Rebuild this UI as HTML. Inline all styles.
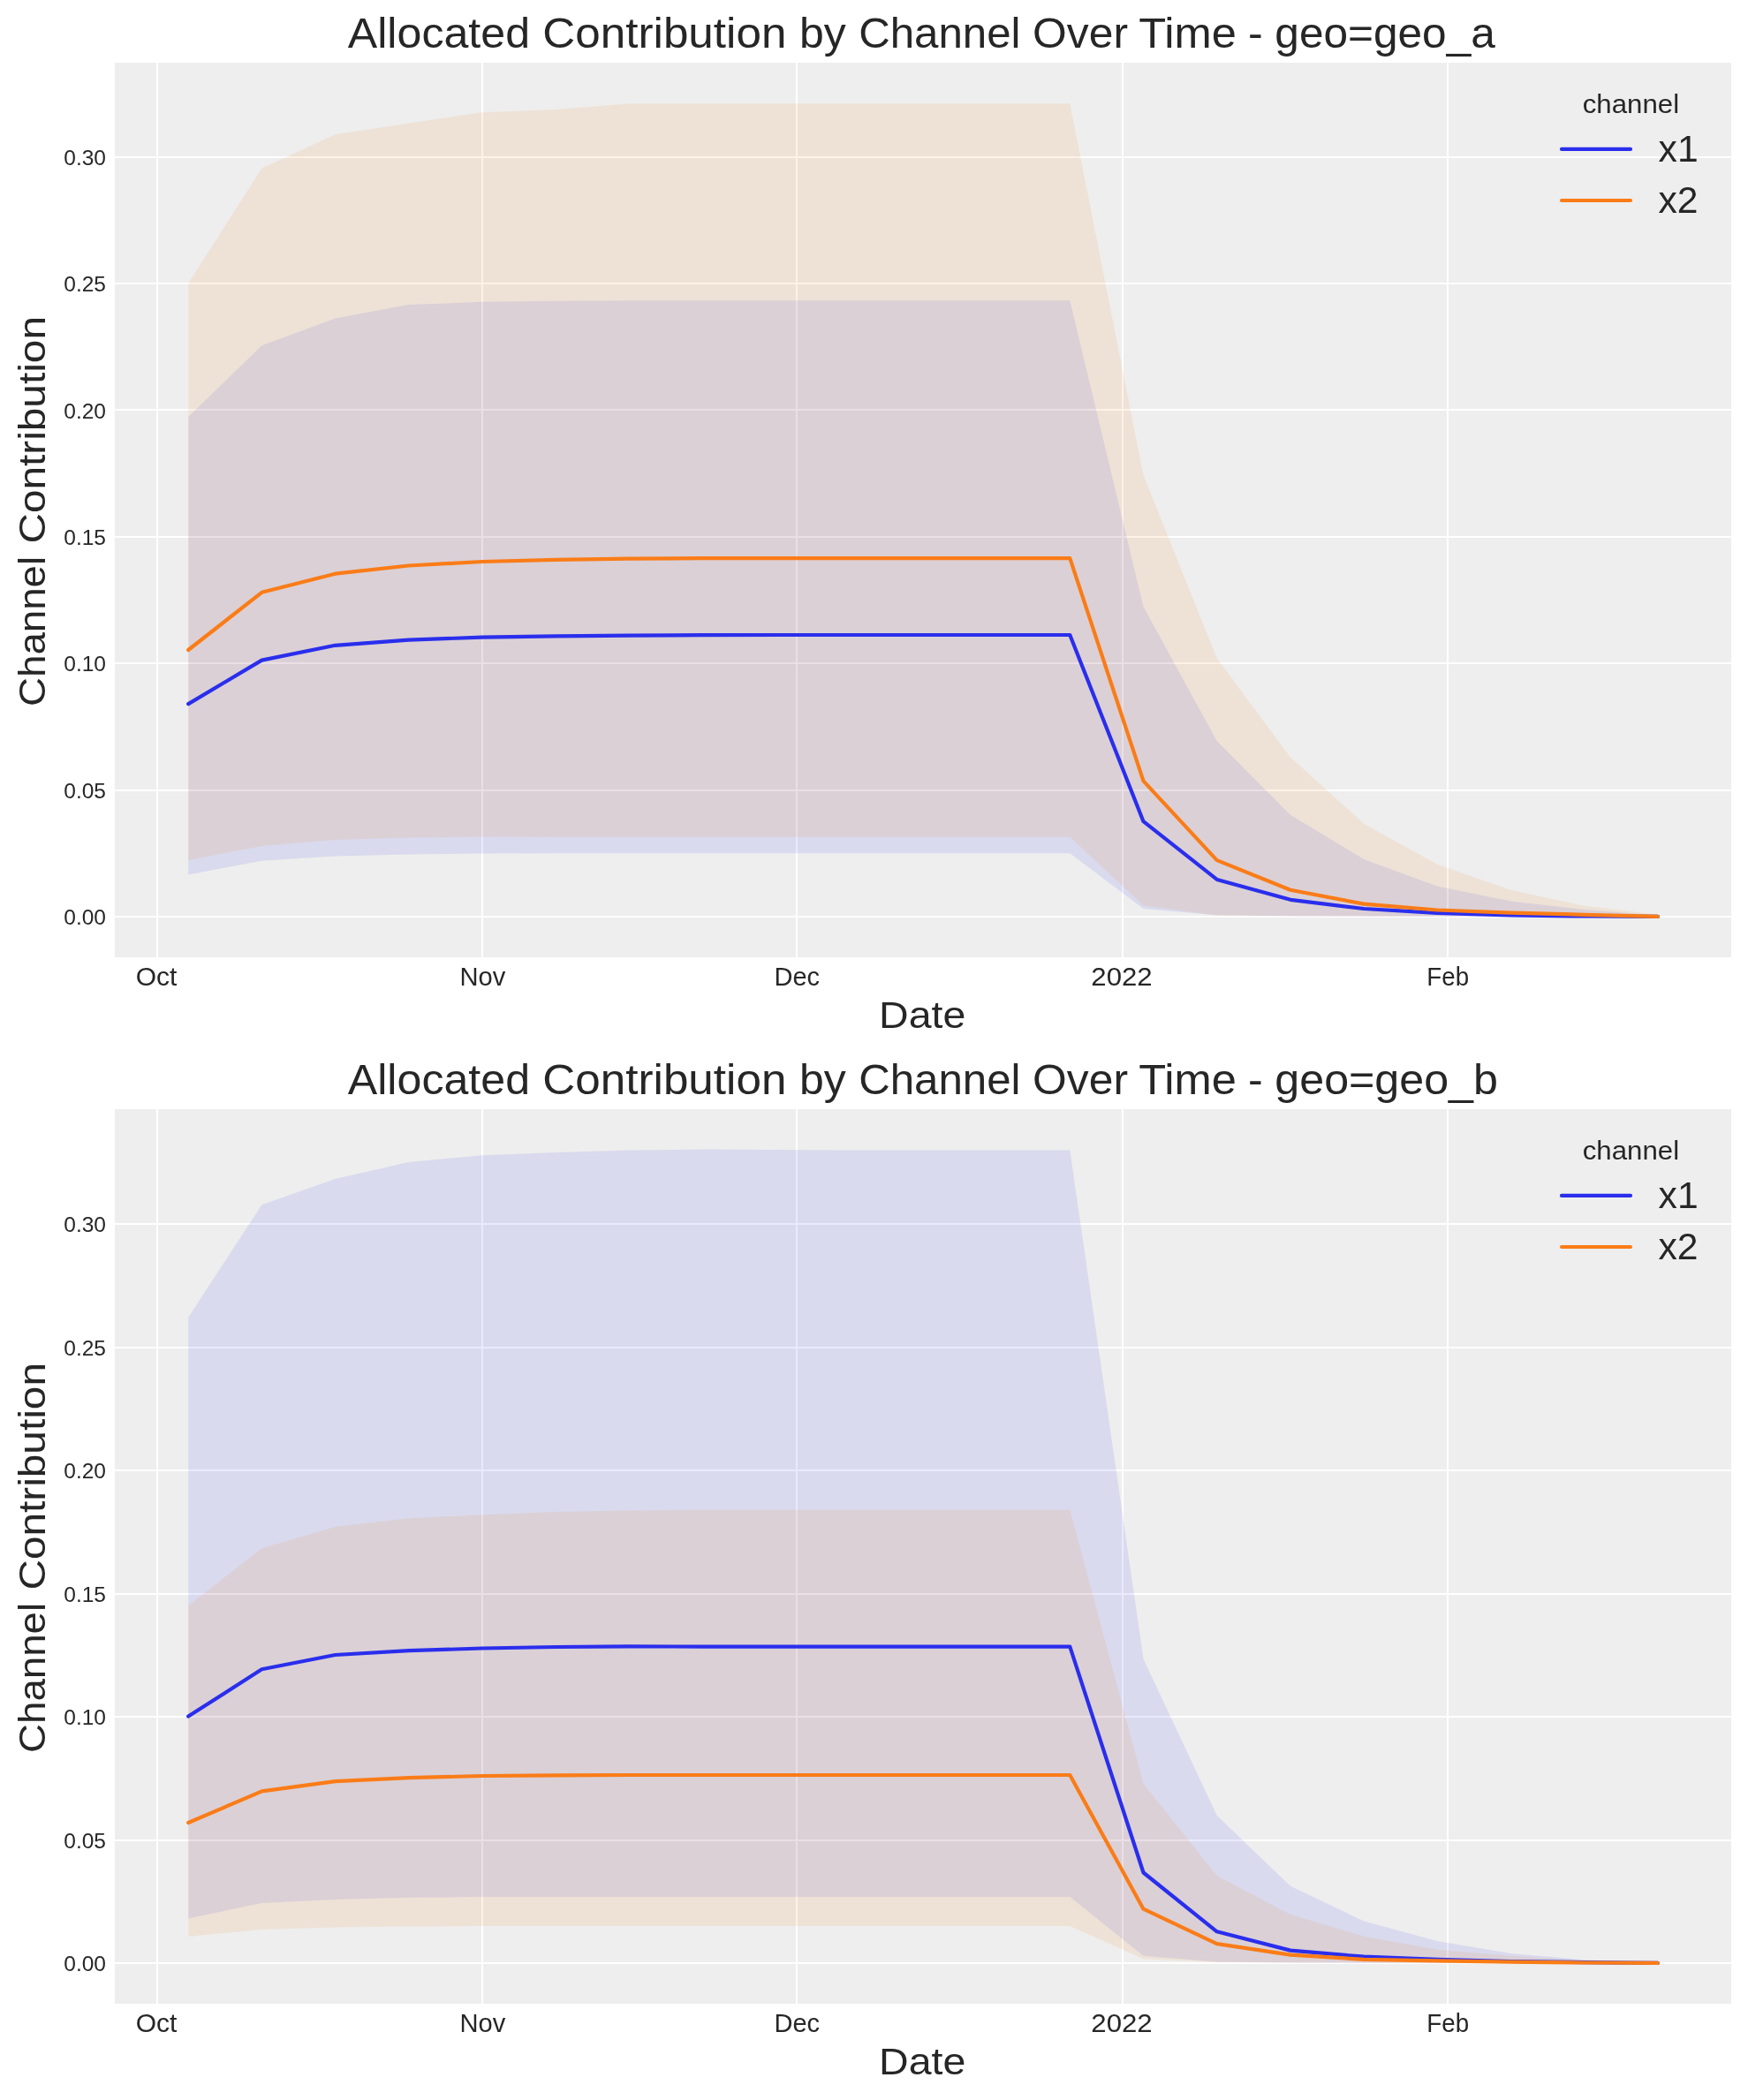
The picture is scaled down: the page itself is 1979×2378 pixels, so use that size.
<!DOCTYPE html>
<html><head><meta charset="utf-8"><style>
html,body{margin:0;padding:0;background:#fff;}
svg{display:block;}
text{font-family:"Liberation Sans", sans-serif;fill:#262626;}
svg{will-change:transform;}
</style></head><body>
<svg width="1979" height="2378" viewBox="0 0 1979 2378">
<rect x="0" y="0" width="1979" height="2378" fill="#ffffff"/>
<rect x="130" y="71" width="1830" height="1013" fill="#eeeeee"/>
<rect x="177" y="71" width="2" height="1013" fill="#ffffff"/>
<rect x="545" y="71" width="2" height="1013" fill="#ffffff"/>
<rect x="901" y="71" width="2" height="1013" fill="#ffffff"/>
<rect x="1270" y="71" width="2" height="1013" fill="#ffffff"/>
<rect x="1638" y="71" width="2" height="1013" fill="#ffffff"/>
<rect x="130" y="1037" width="1830" height="2" fill="#ffffff"/>
<rect x="130" y="894" width="1830" height="2" fill="#ffffff"/>
<rect x="130" y="750" width="1830" height="2" fill="#ffffff"/>
<rect x="130" y="607" width="1830" height="2" fill="#ffffff"/>
<rect x="130" y="463" width="1830" height="2" fill="#ffffff"/>
<rect x="130" y="320" width="1830" height="2" fill="#ffffff"/>
<rect x="130" y="177" width="1830" height="2" fill="#ffffff"/>
<polygon points="213.2,471.9 296.4,391.2 379.5,360.4 462.7,345.1 545.9,341.8 629.1,340.8 712.3,340.3 795.4,340.3 878.6,340.3 961.8,340.3 1045.0,340.3 1128.2,340.3 1211.3,340.3 1294.5,687.0 1377.7,839.1 1460.9,922.7 1544.1,973.0 1627.2,1003.6 1710.4,1020.5 1793.6,1030.1 1876.8,1036.4 1876.8,1037.9 1793.6,1037.9 1710.4,1037.9 1627.2,1037.9 1544.1,1037.8 1460.9,1037.4 1377.7,1036.3 1294.5,1029.0 1211.3,966.3 1128.2,966.3 1045.0,966.3 961.8,966.3 878.6,966.3 795.4,966.3 712.3,966.3 629.1,966.3 545.9,966.5 462.7,967.6 379.5,969.5 296.4,974.7 213.2,990.5" fill="#2a2eec" fill-opacity="0.1"/>
<polygon points="213.2,320.8 296.4,190.4 379.5,152.2 462.7,139.4 545.9,127.2 629.1,124.0 712.3,117.3 795.4,117.3 878.6,117.3 961.8,117.3 1045.0,117.3 1128.2,117.3 1211.3,117.3 1294.5,538.1 1377.7,745.3 1460.9,857.4 1544.1,932.7 1627.2,978.8 1710.4,1007.8 1793.6,1025.8 1876.8,1035.4 1876.8,1037.9 1793.6,1037.9 1710.4,1037.9 1627.2,1037.9 1544.1,1037.8 1460.9,1037.5 1377.7,1036.8 1294.5,1025.2 1211.3,947.7 1128.2,947.7 1045.0,947.7 961.8,947.7 878.6,947.7 795.4,947.7 712.3,947.7 629.1,947.7 545.9,947.6 462.7,948.4 379.5,951.0 296.4,957.9 213.2,973.9" fill="#fa7c17" fill-opacity="0.1"/>
<polyline points="213.2,797.1 296.4,747.6 379.5,730.8 462.7,724.7 545.9,721.6 629.1,720.3 712.3,719.6 795.4,719.2 878.6,719.0 961.8,719.0 1045.0,719.0 1128.2,719.0 1211.3,719.0 1294.5,930.2 1377.7,995.9 1460.9,1018.8 1544.1,1029.0 1627.2,1033.9 1710.4,1036.4 1793.6,1037.5 1876.8,1037.9" fill="none" stroke="#2a2eec" stroke-width="4.2" stroke-linejoin="round" stroke-linecap="round"/>
<polyline points="213.2,736.0 296.4,670.8 379.5,649.7 462.7,640.5 545.9,636.0 629.1,633.8 712.3,632.6 795.4,632.2 878.6,632.2 961.8,632.2 1045.0,632.2 1128.2,632.2 1211.3,632.2 1294.5,884.4 1377.7,974.1 1460.9,1007.8 1544.1,1023.6 1627.2,1030.5 1710.4,1033.7 1793.6,1035.8 1876.8,1037.9" fill="none" stroke="#fa7c17" stroke-width="4.2" stroke-linejoin="round" stroke-linecap="round"/>
<text x="72.26" y="1047.00" font-size="23.3" textLength="47.70" lengthAdjust="spacingAndGlyphs">0.00</text>
<text x="72.26" y="903.67" font-size="23.3" textLength="47.70" lengthAdjust="spacingAndGlyphs">0.05</text>
<text x="72.26" y="760.33" font-size="23.3" textLength="47.70" lengthAdjust="spacingAndGlyphs">0.10</text>
<text x="72.26" y="617.00" font-size="23.3" textLength="47.70" lengthAdjust="spacingAndGlyphs">0.15</text>
<text x="72.26" y="473.67" font-size="23.3" textLength="47.70" lengthAdjust="spacingAndGlyphs">0.20</text>
<text x="72.26" y="330.33" font-size="23.3" textLength="47.70" lengthAdjust="spacingAndGlyphs">0.25</text>
<text x="72.26" y="187.00" font-size="23.3" textLength="47.70" lengthAdjust="spacingAndGlyphs">0.30</text>
<text x="153.75" y="1115.80" font-size="30.4" textLength="46.61" lengthAdjust="spacingAndGlyphs">Oct</text>
<text x="520.48" y="1115.80" font-size="30.4" textLength="51.81" lengthAdjust="spacingAndGlyphs">Nov</text>
<text x="876.47" y="1115.80" font-size="30.4" textLength="51.55" lengthAdjust="spacingAndGlyphs">Dec</text>
<text x="1235.35" y="1115.80" font-size="30.4" textLength="69.31" lengthAdjust="spacingAndGlyphs">2022</text>
<text x="1615.31" y="1115.80" font-size="30.4" textLength="47.79" lengthAdjust="spacingAndGlyphs">Feb</text>
<text x="995.10" y="1164.00" font-size="43.2" textLength="98.29" lengthAdjust="spacingAndGlyphs">Date</text>
<text transform="translate(50.90,799.89) rotate(-90)" font-size="42.5" textLength="170.03" lengthAdjust="spacingAndGlyphs">Channel</text>
<text transform="translate(50.90,615.61) rotate(-90)" font-size="42.5" textLength="257.57" lengthAdjust="spacingAndGlyphs">Contribution</text>
<text x="393.78" y="53.90" font-size="47.8" textLength="206.32" lengthAdjust="spacingAndGlyphs">Allocated</text>
<text x="614.31" y="53.90" font-size="47.8" textLength="276.10" lengthAdjust="spacingAndGlyphs">Contribution</text>
<text x="904.90" y="53.90" font-size="47.8" textLength="52.77" lengthAdjust="spacingAndGlyphs">by</text>
<text x="972.18" y="53.90" font-size="47.8" textLength="183.37" lengthAdjust="spacingAndGlyphs">Channel</text>
<text x="1169.13" y="53.90" font-size="47.8" textLength="107.89" lengthAdjust="spacingAndGlyphs">Over</text>
<text x="1289.25" y="53.90" font-size="47.8" textLength="110.63" lengthAdjust="spacingAndGlyphs">Time</text>
<text x="1412.92" y="53.90" font-size="47.8" textLength="16.69" lengthAdjust="spacingAndGlyphs">-</text>
<text x="1791.78" y="127.80" font-size="29.5" textLength="109.34" lengthAdjust="spacingAndGlyphs">channel</text>
<text x="1877.58" y="183.20" font-size="41.8" textLength="45.10" lengthAdjust="spacingAndGlyphs">x1</text>
<text x="1877.51" y="241.00" font-size="41.8" textLength="45.10" lengthAdjust="spacingAndGlyphs">x2</text>
<text x="1443.33" y="53.90" font-size="47.8" textLength="249.50" lengthAdjust="spacingAndGlyphs">geo=geo_a</text>
<line x1="1768" y1="168.9" x2="1846" y2="168.9" stroke="#2a2eec" stroke-width="4.2" stroke-linecap="round"/>
<line x1="1768" y1="227.0" x2="1846" y2="227.0" stroke="#fa7c17" stroke-width="4.2" stroke-linecap="round"/>
<rect x="130" y="1256" width="1830" height="1013" fill="#eeeeee"/>
<rect x="177" y="1256" width="2" height="1013" fill="#ffffff"/>
<rect x="545" y="1256" width="2" height="1013" fill="#ffffff"/>
<rect x="901" y="1256" width="2" height="1013" fill="#ffffff"/>
<rect x="1270" y="1256" width="2" height="1013" fill="#ffffff"/>
<rect x="1638" y="1256" width="2" height="1013" fill="#ffffff"/>
<rect x="130" y="2222" width="1830" height="2" fill="#ffffff"/>
<rect x="130" y="2083" width="1830" height="2" fill="#ffffff"/>
<rect x="130" y="1943" width="1830" height="2" fill="#ffffff"/>
<rect x="130" y="1804" width="1830" height="2" fill="#ffffff"/>
<rect x="130" y="1664" width="1830" height="2" fill="#ffffff"/>
<rect x="130" y="1525" width="1830" height="2" fill="#ffffff"/>
<rect x="130" y="1385" width="1830" height="2" fill="#ffffff"/>
<polygon points="213.2,1491.7 296.4,1364.2 379.5,1334.9 462.7,1315.9 545.9,1308.2 629.1,1305.0 712.3,1302.6 795.4,1301.6 878.6,1302.1 961.8,1302.6 1045.0,1302.6 1128.2,1302.6 1211.3,1302.6 1294.5,1878.4 1377.7,2055.7 1460.9,2135.8 1544.1,2175.5 1627.2,2198.1 1710.4,2211.9 1793.6,2219.3 1876.8,2222.5 1876.8,2222.9 1793.6,2222.9 1710.4,2222.9 1627.2,2222.9 1544.1,2222.9 1460.9,2222.5 1377.7,2221.6 1294.5,2214.8 1211.3,2148.1 1128.2,2148.1 1045.0,2148.1 961.8,2148.1 878.6,2148.1 795.4,2148.1 712.3,2148.1 629.1,2148.1 545.9,2148.1 462.7,2148.8 379.5,2151.0 296.4,2154.9 213.2,2172.5" fill="#2a2eec" fill-opacity="0.1"/>
<polygon points="213.2,1818.3 296.4,1753.3 379.5,1729.0 462.7,1719.3 545.9,1715.4 629.1,1712.0 712.3,1710.5 795.4,1709.8 878.6,1709.8 961.8,1709.8 1045.0,1709.8 1128.2,1709.8 1211.3,1709.8 1294.5,2019.8 1377.7,2123.9 1460.9,2167.9 1544.1,2192.7 1627.2,2207.7 1710.4,2215.1 1793.6,2219.7 1876.8,2222.5 1876.8,2222.9 1793.6,2222.9 1710.4,2222.9 1627.2,2222.9 1544.1,2222.9 1460.9,2222.7 1377.7,2222.0 1294.5,2218.2 1211.3,2181.0 1128.2,2181.0 1045.0,2181.0 961.8,2181.0 878.6,2181.0 795.4,2181.0 712.3,2181.0 629.1,2181.0 545.9,2181.0 462.7,2181.4 379.5,2182.6 296.4,2185.0 213.2,2192.9" fill="#fa7c17" fill-opacity="0.1"/>
<polyline points="213.2,1943.6 296.4,1890.2 379.5,1874.0 462.7,1869.2 545.9,1866.5 629.1,1865.0 712.3,1864.4 795.4,1864.6 878.6,1864.6 961.8,1864.6 1045.0,1864.6 1128.2,1864.6 1211.3,1864.6 1294.5,2120.5 1377.7,2187.3 1460.9,2208.6 1544.1,2215.7 1627.2,2218.9 1710.4,2221.0 1793.6,2222.1 1876.8,2222.9" fill="none" stroke="#2a2eec" stroke-width="4.2" stroke-linejoin="round" stroke-linecap="round"/>
<polyline points="213.2,2064.0 296.4,2028.4 379.5,2017.1 462.7,2013.2 545.9,2011.0 629.1,2010.3 712.3,2010.0 795.4,2010.0 878.6,2010.0 961.8,2010.0 1045.0,2010.0 1128.2,2010.0 1211.3,2010.0 1294.5,2161.7 1377.7,2201.1 1460.9,2213.6 1544.1,2218.8 1627.2,2220.4 1710.4,2221.6 1793.6,2222.5 1876.8,2222.9" fill="none" stroke="#fa7c17" stroke-width="4.2" stroke-linejoin="round" stroke-linecap="round"/>
<text x="72.26" y="2232.00" font-size="23.3" textLength="47.70" lengthAdjust="spacingAndGlyphs">0.00</text>
<text x="72.26" y="2092.50" font-size="23.3" textLength="47.70" lengthAdjust="spacingAndGlyphs">0.05</text>
<text x="72.26" y="1953.00" font-size="23.3" textLength="47.70" lengthAdjust="spacingAndGlyphs">0.10</text>
<text x="72.26" y="1813.50" font-size="23.3" textLength="47.70" lengthAdjust="spacingAndGlyphs">0.15</text>
<text x="72.26" y="1674.00" font-size="23.3" textLength="47.70" lengthAdjust="spacingAndGlyphs">0.20</text>
<text x="72.26" y="1534.50" font-size="23.3" textLength="47.70" lengthAdjust="spacingAndGlyphs">0.25</text>
<text x="72.26" y="1395.00" font-size="23.3" textLength="47.70" lengthAdjust="spacingAndGlyphs">0.30</text>
<text x="153.75" y="2300.80" font-size="30.4" textLength="46.61" lengthAdjust="spacingAndGlyphs">Oct</text>
<text x="520.48" y="2300.80" font-size="30.4" textLength="51.81" lengthAdjust="spacingAndGlyphs">Nov</text>
<text x="876.47" y="2300.80" font-size="30.4" textLength="51.55" lengthAdjust="spacingAndGlyphs">Dec</text>
<text x="1235.35" y="2300.80" font-size="30.4" textLength="69.31" lengthAdjust="spacingAndGlyphs">2022</text>
<text x="1615.31" y="2300.80" font-size="30.4" textLength="47.79" lengthAdjust="spacingAndGlyphs">Feb</text>
<text x="995.10" y="2349.00" font-size="43.2" textLength="98.29" lengthAdjust="spacingAndGlyphs">Date</text>
<text transform="translate(50.90,1984.89) rotate(-90)" font-size="42.5" textLength="170.03" lengthAdjust="spacingAndGlyphs">Channel</text>
<text transform="translate(50.90,1800.61) rotate(-90)" font-size="42.5" textLength="257.57" lengthAdjust="spacingAndGlyphs">Contribution</text>
<text x="393.78" y="1238.90" font-size="47.8" textLength="206.32" lengthAdjust="spacingAndGlyphs">Allocated</text>
<text x="614.31" y="1238.90" font-size="47.8" textLength="276.10" lengthAdjust="spacingAndGlyphs">Contribution</text>
<text x="904.90" y="1238.90" font-size="47.8" textLength="52.77" lengthAdjust="spacingAndGlyphs">by</text>
<text x="972.18" y="1238.90" font-size="47.8" textLength="183.37" lengthAdjust="spacingAndGlyphs">Channel</text>
<text x="1169.13" y="1238.90" font-size="47.8" textLength="107.89" lengthAdjust="spacingAndGlyphs">Over</text>
<text x="1289.25" y="1238.90" font-size="47.8" textLength="110.63" lengthAdjust="spacingAndGlyphs">Time</text>
<text x="1412.92" y="1238.90" font-size="47.8" textLength="16.69" lengthAdjust="spacingAndGlyphs">-</text>
<text x="1791.78" y="1312.80" font-size="29.5" textLength="109.34" lengthAdjust="spacingAndGlyphs">channel</text>
<text x="1877.58" y="1368.20" font-size="41.8" textLength="45.10" lengthAdjust="spacingAndGlyphs">x1</text>
<text x="1877.51" y="1426.00" font-size="41.8" textLength="45.10" lengthAdjust="spacingAndGlyphs">x2</text>
<text x="1443.37" y="1238.90" font-size="47.8" textLength="252.46" lengthAdjust="spacingAndGlyphs">geo=geo_b</text>
<line x1="1768" y1="1353.9" x2="1846" y2="1353.9" stroke="#2a2eec" stroke-width="4.2" stroke-linecap="round"/>
<line x1="1768" y1="1412.0" x2="1846" y2="1412.0" stroke="#fa7c17" stroke-width="4.2" stroke-linecap="round"/>
</svg></body></html>
